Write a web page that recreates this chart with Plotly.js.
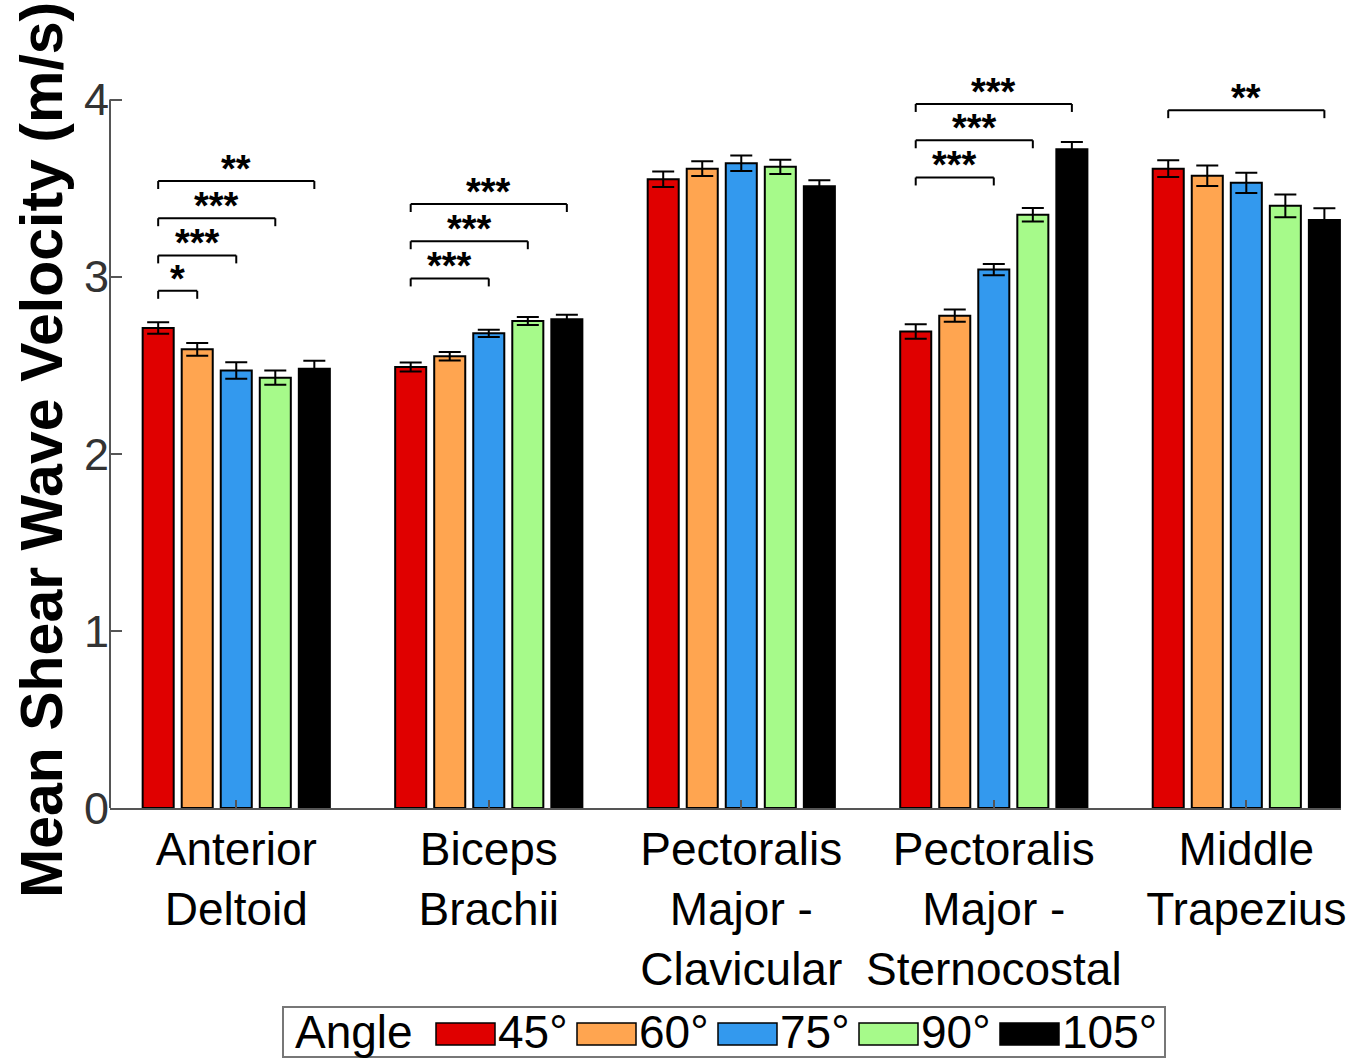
<!DOCTYPE html>
<html>
<head>
<meta charset="utf-8">
<script src="https://cdn.plot.ly/plotly-3.0.1.min.js"></script>
<style>html,body{margin:0;padding:0;background:#fff;}#chart{width:1368px;height:1059px;}</style>
</head>
<body>
<div id="chart"></div>
<script>
// ---- data ----
const categories = ['Anterior<br>Deltoid', 'Biceps<br>Brachii', 'Pectoralis<br>Major -<br>Clavicular', 'Pectoralis<br>Major -<br>Sternocostal', 'Middle<br>Trapezius'];
const angles = ['45°', '60°', '75°', '90°', '105°'];
const v45  = [2.71, 2.49, 3.55, 2.69, 3.61];
const v60  = [2.59, 2.55, 3.61, 2.78, 3.57];
const v75  = [2.47, 2.68, 3.64, 3.04, 3.53];
const v90  = [2.43, 2.75, 3.62, 3.35, 3.40];
const v105 = [2.48, 2.76, 3.51, 3.72, 3.32];
const e45  = [0.032, 0.025, 0.044, 0.041, 0.047];
const e60  = [0.036, 0.024, 0.042, 0.035, 0.058];
const e75  = [0.047, 0.020, 0.044, 0.032, 0.057];
const e90  = [0.040, 0.023, 0.040, 0.038, 0.064];
const e105 = [0.045, 0.025, 0.034, 0.041, 0.066];
// significance brackets: category index, from angle index, to angle index, bracket level (m/s), label
const sigCategory = [0, 0, 0, 0, 1, 1, 1, 3, 3, 3, 4];
const sigFrom     = [0, 0, 0, 0, 0, 0, 0, 0, 0, 0, 0];
const sigTo       = [1, 2, 3, 4, 2, 3, 4, 2, 3, 4, 4];
const sigLevel    = [2.92, 3.12, 3.33, 3.54, 2.99, 3.20, 3.41, 3.56, 3.77, 3.975, 3.94];
const sigLabel    = ['*', '***', '***', '**', '***', '***', '***', '***', '***', '***', '**'];
const yTicks = [0, 1, 2, 3, 4];
const yTitle = 'Mean Shear Wave Velocity (m/s)';

// ---- style ----
const colors = ['#e00000', '#ffa550', '#3399ee', '#a6fa8a', '#000000'];
const FONT = 'Liberation Sans, Arial, sans-serif';
const values = [v45, v60, v75, v90, v105];
const errors = [e45, e60, e75, e90, e105];
const BARGAP = 0.227, GROUPGAP = 0.205;
const nSeries = angles.length;
const slot = (1 - BARGAP) / nSeries;
const M = {l: 110, r: 27, t: 73, b: 251};
const W = 1368, H = 1059;
const plotW = W - M.l - M.r, plotH = H - M.t - M.b;
const px = x => (x - M.l) / plotW;
const py = y => (H - M.b - y) / plotH;

const traces = angles.map((a, i) => ({
  type: 'bar', name: a, x: categories, y: values[i],
  marker: {color: colors[i], line: {color: '#000', width: 2}},
  error_y: {type: 'data', array: errors[i], visible: true, color: '#000', thickness: 2, width: 11},
  showlegend: false, hoverinfo: 'y'
}));

const shapes = [];
const annotations = [];
const tickDrop = 0.045;
const barX = (c, k) => c + (k - (nSeries - 1) / 2) * slot;
for (let i = 0; i < sigCategory.length; i++) {
  const x0 = barX(sigCategory[i], sigFrom[i]);
  const x1 = barX(sigCategory[i], sigTo[i]);
  const y = sigLevel[i];
  const line = {color: '#000', width: 2};
  shapes.push({type: 'line', xref: 'x', yref: 'y', x0: x0, x1: x1, y0: y, y1: y, line: line});
  shapes.push({type: 'line', xref: 'x', yref: 'y', x0: x0, x1: x0, y0: y, y1: y - tickDrop, line: line});
  shapes.push({type: 'line', xref: 'x', yref: 'y', x0: x1, x1: x1, y0: y, y1: y - tickDrop, line: line});
  annotations.push({xref: 'x', yref: 'y', x: (x0 + x1) / 2, y: y, text: sigLabel[i], showarrow: false,
    yanchor: 'bottom', yshift: -11, font: {family: FONT, size: 38, weight: 'bold', color: '#000'}});
}
// y axis line (0..4)
shapes.push({type: 'line', xref: 'paper', yref: 'y', x0: 0, x1: 0, y0: yTicks[0], y1: yTicks[yTicks.length - 1],
  line: {color: '#555', width: 2}});

// y axis title
annotations.push({xref: 'paper', yref: 'paper', x: px(42), y: py(450), xanchor: 'center', yanchor: 'middle',
  textangle: -90, text: yTitle, showarrow: false, font: {family: FONT, size: 59, weight: 'bold', color: '#000'}});

// manual legend
shapes.push({type: 'rect', xref: 'paper', yref: 'paper', x0: px(283), x1: px(1165), y0: py(1057), y1: py(1007),
  line: {color: '#777', width: 2}, fillcolor: '#fff'});
annotations.push({xref: 'paper', yref: 'paper', x: px(293), y: py(1032), xanchor: 'left', yanchor: 'middle',
  text: 'Angle', showarrow: false, font: {family: FONT, size: 46, color: '#000'}});
for (let i = 0; i < nSeries; i++) {
  const sx = 436 + i * 141;
  shapes.push({type: 'rect', xref: 'paper', yref: 'paper', x0: px(sx), x1: px(sx + 59), y0: py(1045), y1: py(1023),
    fillcolor: colors[i], line: {color: '#000', width: 1.5}});
  annotations.push({xref: 'paper', yref: 'paper', x: px(sx + 60), y: py(1032), xanchor: 'left', yanchor: 'middle',
    text: angles[i], showarrow: false, font: {family: FONT, size: 46, color: '#000'}});
}

const layout = {
  width: W, height: H, margin: M,
  paper_bgcolor: '#fff', plot_bgcolor: '#fff',
  barmode: 'group', bargap: BARGAP, bargroupgap: GROUPGAP,
  showlegend: false,
  font: {family: FONT, color: '#000'},
  xaxis: {
    type: 'category', range: [-0.5, 4.375], showline: true, linecolor: '#555', linewidth: 2,
    ticks: 'inside', ticklen: 8, tickwidth: 2, tickcolor: '#555', showgrid: false, zeroline: false,
    tickfont: {family: FONT, size: 46, color: '#000'}
  },
  yaxis: {
    range: [0, 4.15], tickvals: yTicks, ticktext: yTicks.map(String), showline: false,
    ticks: 'inside', ticklen: 12, tickwidth: 2, tickcolor: '#555', showgrid: false, zeroline: false,
    tickfont: {family: FONT, size: 45, color: '#333'}
  },
  shapes: shapes,
  annotations: annotations
};
Plotly.newPlot('chart', traces, layout, {displayModeBar: false, staticPlot: true});
</script>
</body>
</html>
